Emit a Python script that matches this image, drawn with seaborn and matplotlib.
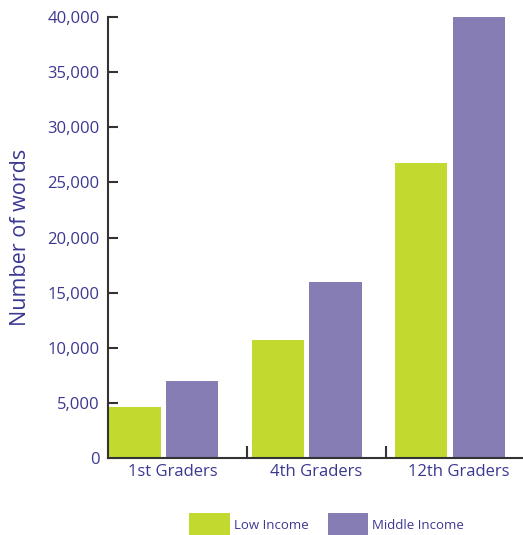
import pandas as pd
import matplotlib
matplotlib.use("Agg")
from matplotlib import pyplot as plt
from matplotlib.patches import Patch
from matplotlib.transforms import ScaledTranslation
import seaborn as sns

# data
grades = ['1st Graders', '4th Graders', '12th Graders']
low_income = [4600, 10700, 26800]
middle_income = [7000, 16000, 40000]
groups = ['Low Income', 'Middle Income']

df = pd.DataFrame({
    'grade': grades * 2,
    'group': [groups[0]] * 3 + [groups[1]] * 3,
    'words': low_income + middle_income,
})

text_col = '#3b3891'
colors = ['#c2d92f', '#857db3']

sns.set_style('white')
plt.rcParams['font.family'] = ['Open Sans', 'DejaVu Sans']

fig = plt.figure(figsize=(5.23, 5.35), dpi=100)
ax = fig.add_axes([108 / 523, 1 - 458 / 535, 415 / 523, 441 / 535])

sns.barplot(data=df, x='grade', y='words', hue='group', palette=colors,
            width=0.8, gap=0.09, saturation=1, linewidth=0, ax=ax, legend=False)

ax.set_xlim(-0.39, 2.51)
ax.set_ylim(0, 40000)
ax.set_yticks(range(0, 40001, 5000))
ax.set_yticklabels([f'{v:,}' for v in range(0, 40001, 5000)])
ax.set_xticks([0.58, 1.55], minor=True)

for s in ['top', 'right']:
    ax.spines[s].set_visible(False)
for s in ['left', 'bottom']:
    ax.spines[s].set_color('#333333')
    ax.spines[s].set_linewidth(1.5)

ax.tick_params(axis='y', direction='in', length=7, width=1.5, color='#333333',
               labelsize=12, labelcolor=text_col, pad=6, left=True)
ax.tick_params(axis='x', which='major', length=0, labelsize=12,
               labelcolor=text_col, pad=4)
ax.tick_params(axis='x', which='minor', direction='in', length=9, width=1.5,
               color='#333333', bottom=True)

# labels sit a little right of the bar groups in the original
shift = ScaledTranslation(9 / 100, 0, fig.dpi_scale_trans)
for lab in ax.get_xticklabels():
    lab.set_transform(lab.get_transform() + shift)

ax.set_xlabel('')
ax.set_ylabel('Number of words', fontsize=15.5, color=text_col, labelpad=12)

handles = [Patch(facecolor=c, edgecolor='none') for c in colors]
fig.legend(handles, groups, loc='lower center', bbox_to_anchor=(0.625, -0.025),
           ncol=2, frameon=False, fontsize=9.5, labelcolor=text_col,
           handlelength=3.1, handleheight=2.4, handletextpad=0.3,
           columnspacing=1.4)

fig.savefig('out.png', dpi=100)
